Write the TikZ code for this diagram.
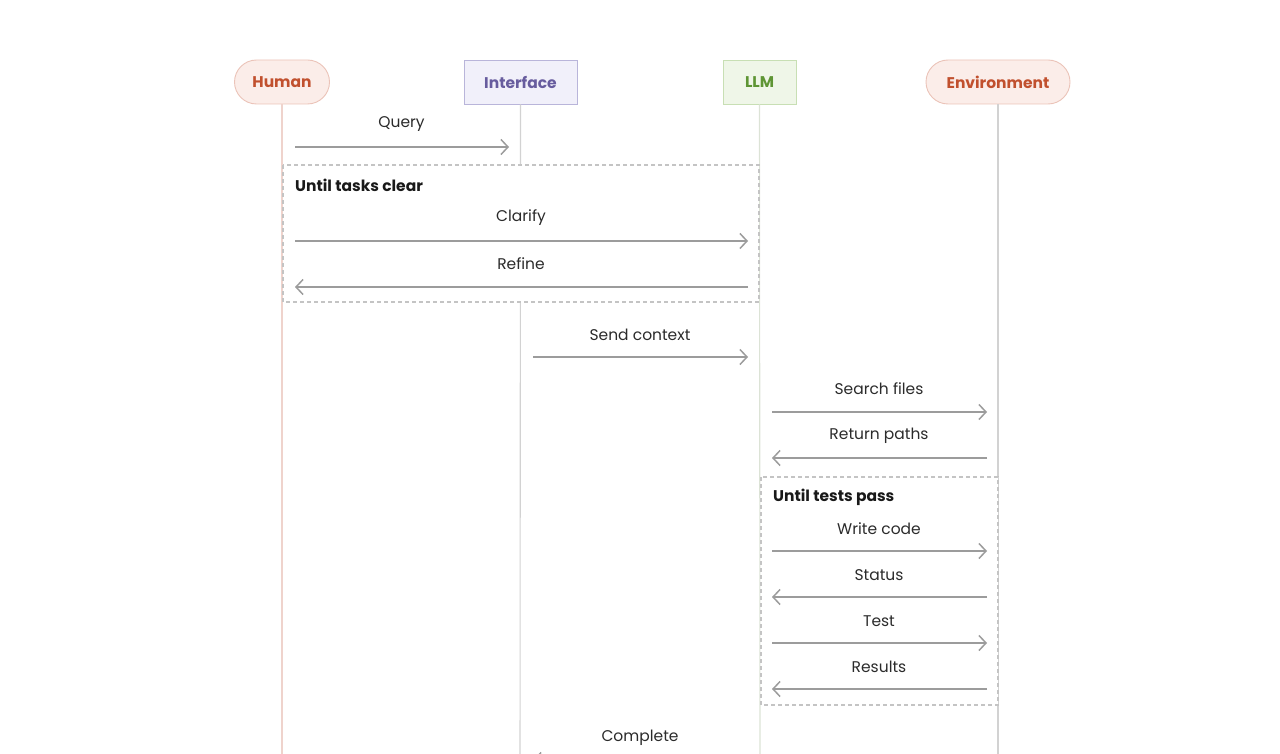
\documentclass[tikz,border=0pt]{standalone}
\usepackage{fontspec}
\setmainfont{Poppins}
\usetikzlibrary{arrows.meta}
\definecolor{pinkfill}{HTML}{FBEDE9}
\definecolor{pinkdraw}{HTML}{EBC3B8}
\definecolor{pinkline}{HTML}{EFD3CC}
\definecolor{pinktext}{HTML}{C1502E}
\definecolor{purfill}{HTML}{F1F0FA}
\definecolor{purdraw}{HTML}{B9B5DA}
\definecolor{purtext}{HTML}{675C9E}
\definecolor{grnfill}{HTML}{EFF6E8}
\definecolor{grndraw}{HTML}{C8DFB4}
\definecolor{grntext}{HTML}{5E9534}
\definecolor{greyline}{HTML}{D2D2D2}
\definecolor{grnline}{HTML}{DCE3D6}
\definecolor{msg}{HTML}{9C9C9C}
\definecolor{loopc}{HTML}{C4C4C4}
\definecolor{txt}{HTML}{2B2B2B}
\tikzset{
  actor/.style={minimum height=44pt, font=\fontsize{15.5}{18}\selectfont\bfseries, inner sep=0pt, line width=0.9pt},
  pill/.style={actor, rounded corners=22pt, fill=pinkfill, draw=pinkdraw, text=pinktext},
  msgline/.style={draw=msg, line width=1.5pt, -{Straight Barb[length=7pt,width=15pt,line width=1.5pt]}},
  lbl/.style={font=\fontsize{15.5}{18}\selectfont, text=txt, inner sep=0pt},
  looplbl/.style={font=\fontsize{15.5}{18}\selectfont\bfseries, text=black!90, inner sep=0pt, anchor=west},
  loopbox/.style={draw=loopc, dashed, dash pattern=on 4pt off 3pt, line width=1.2pt, fill=white},
  life/.style={line width=1.1pt}
}
\begin{document}
\begin{tikzpicture}[x=1pt,y=-1pt]
\useasboundingbox (0,0) rectangle (1280,754);
\clip (0,0) rectangle (1280,754);
% participants
\node[pill, minimum width=95pt] (hum) at (282,82) {Human};
\node[actor, minimum width=113pt, fill=purfill, draw=purdraw, text=purtext] (int) at (520.5,82) {Interface};
\node[actor, minimum width=73pt, fill=grnfill, draw=grndraw, text=grntext] (llm) at (759.5,82) {LLM};
\node[pill, minimum width=144pt] (env) at (998,82) {Environment};
% lifelines
\coordinate (humE) at (282,780);
\coordinate (intE) at (520,780);
\coordinate (llmE) at (760,780);
\coordinate (envE) at (998,780);
\draw[life, draw=pinkline] (hum.south) -- (humE);
\draw[life, draw=greyline] (int.south) -- (intE);
\draw[life, draw=grnline] (llm.south) -- (llmE);
\draw[life, draw=greyline] (env.south) -- (envE);
% Query
\coordinate (q1) at (295,147); \coordinate (q2) at (509,147);
\draw[msgline] (q1) -- (q2);
\node[lbl] (qL) at (401.5,124) {Query};
% loop 1
\path[loopbox] (283,165) rectangle (759,302);
\node[looplbl] (l1) at (295,185) {Until tasks clear};
\coordinate (c1) at (295,241); \coordinate (c2) at (748,241);
\draw[msgline] (c1) -- (c2);
\node[lbl] (cL) at (521,218) {Clarify};
\coordinate (r1) at (748,287); \coordinate (r2) at (295,287);
\draw[msgline] (r1) -- (r2);
\node[lbl] (rL) at (521,264) {Refine};
% send context
\coordinate (s1) at (533,357); \coordinate (s2) at (748,357);
\draw[msgline] (s1) -- (s2);
\node[lbl] (sL) at (640,335) {Send context};
% search
\coordinate (f1) at (772,412); \coordinate (f2) at (987,412);
\draw[msgline] (f1) -- (f2);
\node[lbl] (fL) at (879,389) {Search files};
\coordinate (p1) at (987,458); \coordinate (p2) at (772,458);
\draw[msgline] (p1) -- (p2);
\node[lbl] (pL) at (879,436) {Return paths};
% loop 2
\path[loopbox] (761,477) rectangle (998,705);
\node[looplbl] (l2) at (773,497) {Until tests pass};
\coordinate (w1) at (772,551); \coordinate (w2) at (987,551);
\draw[msgline] (w1) -- (w2);
\node[lbl] (wL) at (879,529) {Write code};
\coordinate (t1) at (987,597); \coordinate (t2) at (772,597);
\draw[msgline] (t1) -- (t2);
\node[lbl] (tL) at (879,575) {Status};
\coordinate (e1) at (772,643); \coordinate (e2) at (987,643);
\draw[msgline] (e1) -- (e2);
\node[lbl] (eL) at (879,621) {Test};
\coordinate (u1) at (987,689); \coordinate (u2) at (772,689);
\draw[msgline] (u1) -- (u2);
\node[lbl] (uL) at (879,667) {Results};
% complete
\coordinate (k1) at (748,760); \coordinate (k2) at (533,760);
\draw[msgline] (k1) -- (k2);
\node[lbl] (kL) at (640,738) {Complete};
\end{tikzpicture}
\end{document}
